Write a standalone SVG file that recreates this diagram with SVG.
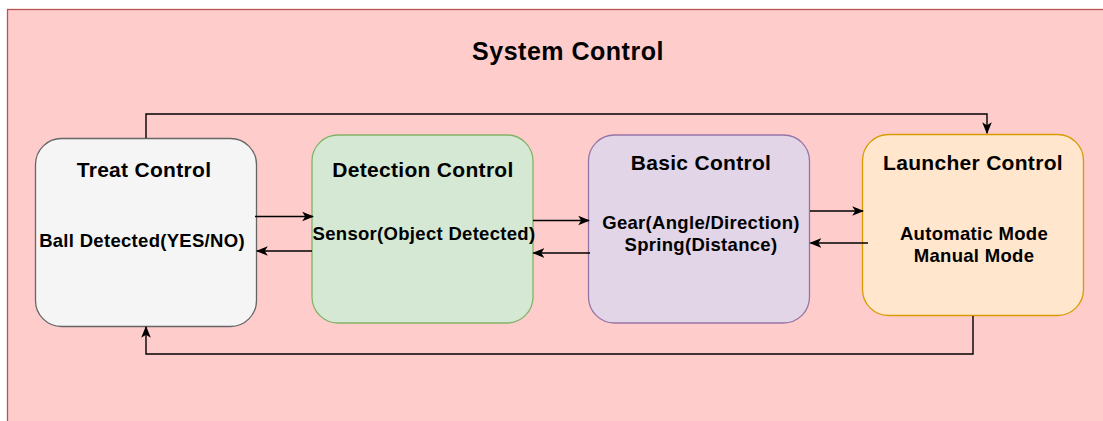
<svg xmlns="http://www.w3.org/2000/svg" width="1103" height="421" viewBox="0 0 1103 421">
<style>
.node{stroke-width:1.3}
.ttl{font-family:"Liberation Sans",Arial,sans-serif;font-weight:bold;font-size:21px;letter-spacing:0.3px;text-anchor:middle;fill:#000}
.body{font-family:"Liberation Sans",Arial,sans-serif;font-weight:bold;font-size:18.5px;letter-spacing:0.3px;text-anchor:middle;fill:#000}
.main{font-family:"Liberation Sans",Arial,sans-serif;font-weight:bold;font-size:25px;letter-spacing:0.5px;text-anchor:middle;fill:#000}
.conn path{fill:none;stroke:#000;stroke-width:1.4}
</style>
<defs>
<marker id="arr" viewBox="0 0 10 10" refX="9" refY="5" markerWidth="12" markerHeight="12" markerUnits="userSpaceOnUse" orient="auto">
<path d="M0,1 L10,5 L0,9 L2.5,5 Z" fill="#000"/>
</marker>
</defs>
<rect width="1103" height="421" fill="#fff"/>
<g id="system">
<rect x="7.5" y="9.5" width="1110" height="430" fill="#ffcccc" stroke="#b85450" stroke-width="1.3"/>
<text class="main" x="568" y="60">System Control</text>
</g>
<g id="treat">
<rect class="node" x="35.5" y="138.5" width="221" height="188" rx="26" fill="#f5f5f5" stroke="#666666"/>
<text class="ttl" x="144" y="177">Treat Control</text>
<text class="body" x="142" y="247">Ball Detected(YES/NO)</text>
</g>
<g id="detection">
<rect class="node" x="312" y="135" width="221" height="188" rx="26" fill="#d5e8d4" stroke="#82b366"/>
<text class="ttl" x="423" y="177">Detection Control</text>
<text class="body" x="424" y="240">Sensor(Object Detected)</text>
</g>
<g id="basic">
<rect class="node" x="588.5" y="135" width="221" height="188" rx="26" fill="#e1d5e7" stroke="#9673a6"/>
<text class="ttl" x="701" y="170">Basic Control</text>
<text class="body" x="701" y="229">Gear(Angle/Direction)</text>
<text class="body" x="701" y="250.5">Spring(Distance)</text>
</g>
<g id="launcher">
<rect class="node" x="862.5" y="134.5" width="221" height="181" rx="26" fill="#ffe6cc" stroke="#d79b00"/>
<text class="ttl" x="973" y="170">Launcher Control</text>
<text class="body" x="974" y="239.5">Automatic Mode</text>
<text class="body" x="974" y="261.5">Manual Mode</text>
</g>
<g class="conn" id="connectors">
<path d="M146,138 V114 H987 V133" marker-end="url(#arr)"/>
<path d="M973,316 V354 H146 V327" marker-end="url(#arr)"/>
<path d="M255,216.5 H313" marker-end="url(#arr)"/>
<path d="M312,251 H257" marker-end="url(#arr)"/>
<path d="M533,220.5 H589" marker-end="url(#arr)"/>
<path d="M590,253 H533.5" marker-end="url(#arr)"/>
<path d="M810,211 H863" marker-end="url(#arr)"/>
<path d="M868,243 H810.5" marker-end="url(#arr)"/>
</g>
</svg>
